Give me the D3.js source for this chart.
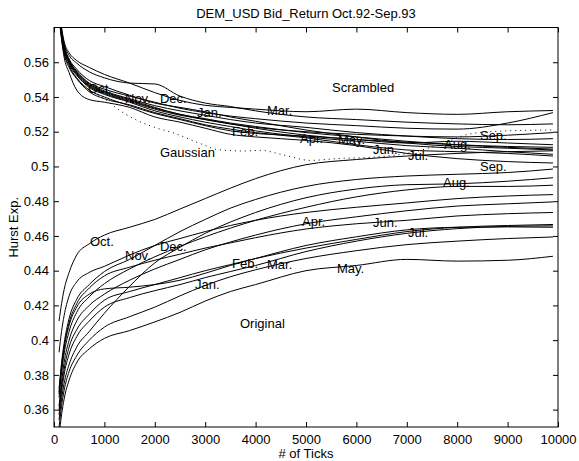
<!DOCTYPE html>
<html>
<head>
<meta charset="utf-8">
<script src="https://cdn.jsdelivr.net/npm/d3@7"></script>
<style>
  body { margin: 0; background: #fff; }
  text { font-family: "Liberation Sans", Arial, Helvetica, sans-serif; fill: #000; }
</style>
</head>
<body>
<svg id="chart" width="579" height="461"></svg>
<script>
// Number of ticks at which each Hurst exponent estimate was taken
const tickCounts = [100, 150, 200, 300, 450, 700, 1000, 1500, 2000, 2500, 3000, 3500, 4000, 5000, 6000, 7000, 8000, 9000, 9900];

const months = ["Oct.", "Nov.", "Dec.", "Jan.", "Feb.", "Mar.", "Apr.", "May.", "Jun.", "Jul.", "Aug.", "Sep."];

// Hurst exponent of the original return series, one row per month (Oct.92 .. Sep.93)
const originalHurst = [
  [0.411, 0.421, 0.429, 0.439, 0.449, 0.4555, 0.4605, 0.465, 0.4695, 0.4755, 0.4815, 0.4875, 0.493, 0.501, 0.504, 0.506, 0.5075, 0.5085, 0.509],
  [0.393, 0.405, 0.414, 0.4255, 0.4335, 0.439, 0.4425, 0.449, 0.4545, 0.4585, 0.4625, 0.466, 0.469, 0.4735, 0.4765, 0.479, 0.4815, 0.483, 0.4838],
  [0.354, 0.366, 0.375, 0.386, 0.396, 0.405, 0.4155, 0.431, 0.4445, 0.4535, 0.4615, 0.468, 0.4735, 0.482, 0.487, 0.4895, 0.490, 0.4915, 0.4935],
  [0.350, 0.362, 0.371, 0.382, 0.391, 0.400, 0.4075, 0.4135, 0.419, 0.4255, 0.4315, 0.4365, 0.4405, 0.447, 0.4515, 0.455, 0.457, 0.4585, 0.4594],
  [0.360, 0.373, 0.383, 0.396, 0.406, 0.415, 0.423, 0.428, 0.432, 0.436, 0.440, 0.4435, 0.447, 0.453, 0.458, 0.4625, 0.465, 0.466, 0.4666],
  [0.357, 0.370, 0.380, 0.392, 0.402, 0.411, 0.419, 0.4245, 0.4285, 0.432, 0.436, 0.4395, 0.443, 0.451, 0.457, 0.4615, 0.4642, 0.4655, 0.4658],
  [0.362, 0.376, 0.387, 0.400, 0.411, 0.420, 0.4265, 0.4345, 0.441, 0.4465, 0.452, 0.4565, 0.4605, 0.467, 0.471, 0.4745, 0.4772, 0.4785, 0.4796],
  [0.345, 0.357, 0.366, 0.377, 0.387, 0.395, 0.401, 0.4055, 0.4105, 0.416, 0.4225, 0.428, 0.432, 0.440, 0.443, 0.4465, 0.4455, 0.446, 0.4483],
  [0.370, 0.385, 0.396, 0.410, 0.421, 0.430, 0.437, 0.442, 0.446, 0.4495, 0.453, 0.456, 0.459, 0.464, 0.467, 0.469, 0.4715, 0.4728, 0.4735],
  [0.369, 0.384, 0.395, 0.4085, 0.419, 0.4265, 0.4295, 0.4305, 0.432, 0.4345, 0.4385, 0.443, 0.447, 0.4545, 0.4595, 0.4635, 0.465, 0.4652, 0.465],
  [0.367, 0.381, 0.392, 0.405, 0.416, 0.425, 0.4325, 0.441, 0.448, 0.454, 0.4595, 0.4645, 0.469, 0.4765, 0.4825, 0.4865, 0.4885, 0.4885, 0.4892],
  [0.372, 0.387, 0.398, 0.4125, 0.4235, 0.432, 0.4395, 0.4465, 0.4545, 0.4625, 0.4695, 0.476, 0.481, 0.4885, 0.4925, 0.4945, 0.4955, 0.4965, 0.4985]
];

// Hurst exponent of the scrambled (shuffled) series, same month order
const scrambledHurst = [
  [0.588, 0.576, 0.568, 0.561, 0.555, 0.548, 0.5445, 0.5405, 0.537, 0.5335, 0.531, 0.529, 0.5275, 0.525, 0.5235, 0.522, 0.5215, 0.525, 0.531],
  [0.589, 0.577, 0.569, 0.561, 0.5545, 0.5475, 0.5435, 0.539, 0.535, 0.532, 0.5295, 0.527, 0.525, 0.5225, 0.5195, 0.5175, 0.516, 0.5155, 0.516],
  [0.590, 0.579, 0.571, 0.564, 0.5595, 0.5545, 0.551, 0.548, 0.5475, 0.5405, 0.5365, 0.5345, 0.532, 0.5285, 0.527, 0.5255, 0.5245, 0.524, 0.5245],
  [0.590, 0.578, 0.570, 0.562, 0.556, 0.5495, 0.546, 0.541, 0.5365, 0.534, 0.5315, 0.5285, 0.526, 0.521, 0.517, 0.5135, 0.5115, 0.5105, 0.5095],
  [0.587, 0.575, 0.566, 0.558, 0.551, 0.544, 0.540, 0.535, 0.5305, 0.527, 0.5235, 0.5205, 0.519, 0.5175, 0.5155, 0.514, 0.5125, 0.5115, 0.511],
  [0.592, 0.580, 0.572, 0.5655, 0.561, 0.557, 0.553, 0.548, 0.5425, 0.538, 0.5352, 0.534, 0.533, 0.5315, 0.533, 0.531, 0.530, 0.5315, 0.5322],
  [0.588, 0.576, 0.567, 0.559, 0.5525, 0.5455, 0.5415, 0.537, 0.532, 0.5285, 0.5255, 0.523, 0.5205, 0.517, 0.5145, 0.512, 0.5105, 0.5085, 0.507],
  [0.589, 0.577, 0.568, 0.560, 0.553, 0.546, 0.542, 0.5375, 0.533, 0.5295, 0.527, 0.5245, 0.522, 0.518, 0.5155, 0.5135, 0.5145, 0.5135, 0.5125],
  [0.587, 0.574, 0.565, 0.557, 0.5505, 0.543, 0.539, 0.5355, 0.531, 0.5275, 0.524, 0.5215, 0.5195, 0.5165, 0.5125, 0.5095, 0.5085, 0.5075, 0.506],
  [0.586, 0.573, 0.563, 0.554, 0.544, 0.5385, 0.537, 0.534, 0.5285, 0.5255, 0.522, 0.5185, 0.517, 0.515, 0.512, 0.5075, 0.5045, 0.5028, 0.502],
  [0.590, 0.578, 0.569, 0.561, 0.554, 0.547, 0.543, 0.5385, 0.534, 0.530, 0.5275, 0.525, 0.523, 0.5195, 0.517, 0.5145, 0.5125, 0.511, 0.510],
  [0.589, 0.577, 0.568, 0.560, 0.5535, 0.5465, 0.5425, 0.538, 0.5335, 0.530, 0.527, 0.5245, 0.5225, 0.520, 0.5185, 0.5175, 0.517, 0.518, 0.5195]
];

// Gaussian reference estimate (dotted)
const gaussianTicks = [100, 150, 200, 300, 450, 700, 1000, 1300, 1650, 2000, 2400, 2900, 3250, 3800, 4100, 4500, 5100, 5600, 6400, 7000, 7600, 8300, 9000, 9900];
const gaussianHurst = [0.588, 0.575, 0.566, 0.558, 0.551, 0.5445, 0.539, 0.5323, 0.5265, 0.5225, 0.519, 0.5132, 0.5097, 0.5089, 0.5093, 0.507, 0.5035, 0.5045, 0.5055, 0.5075, 0.512, 0.519, 0.5205, 0.521];

// Month annotations, [ticks, Hurst exp.] of the text's left edge
const originalLabelAt = [[714, 0.457], [1409, 0.4489], [2103, 0.4541], [2798, 0.4322], [3532, 0.4443], [4226, 0.4437],
  [4921, 0.4685], [5615, 0.4414], [6329, 0.4679], [7024, 0.4621], [7718, 0.4909], [8452, 0.5001]];
const scrambledLabelAt = [[675, 0.5449], [1409, 0.5392], [2103, 0.5394], [2837, 0.5311], [3532, 0.5202], [4226, 0.5323],
  [4881, 0.5162], [5635, 0.5156], [6329, 0.5099], [7024, 0.5064], [7738, 0.5127], [8452, 0.5179]];
const groupLabels = [["Scrambled", 5516, 0.5455], ["Gaussian", 2103, 0.5081], ["Original", 3690, 0.4098]];

const xTicks = [0, 1000, 2000, 3000, 4000, 5000, 6000, 7000, 8000, 9000, 10000];
const yTicks = [0.36, 0.38, 0.40, 0.42, 0.44, 0.46, 0.48, 0.50, 0.52, 0.54, 0.56];

const svg = d3.select("#chart");
const W = 579, H = 461;
const m = { left: 54, right: 21, top: 27.5, bottom: 34 };
const iw = W - m.left - m.right, ih = H - m.top - m.bottom;

const x = d3.scaleLinear().domain([0, 10000]).range([0, iw]);
const y = d3.scaleLinear().domain([0.35, 0.58]).range([ih, 0]);

svg.append("rect").attr("width", W).attr("height", H).attr("fill", "#fff");

const g = svg.append("g").attr("transform", `translate(${m.left},${m.top})`);

g.append("clipPath").attr("id", "plotClip")
  .append("rect").attr("width", iw).attr("height", ih);

const line = d3.line().curve(d3.curveMonotoneX);
const plot = g.append("g").attr("clip-path", "url(#plotClip)");

function drawSeries(rows, ticks) {
  rows.forEach(vals => {
    plot.append("path")
      .attr("d", line(ticks.map((t, i) => [x(t), y(vals[i])])))
      .attr("fill", "none").attr("stroke", "#000").attr("stroke-width", 1);
  });
}
drawSeries(scrambledHurst, tickCounts);
drawSeries(originalHurst, tickCounts);

plot.append("path")
  .attr("d", line(gaussianTicks.map((t, i) => [x(t), y(gaussianHurst[i])])))
  .attr("fill", "none").attr("stroke", "#000").attr("stroke-width", 1)
  .attr("stroke-dasharray", "1,4");

// Axes: MATLAB-style box with inward ticks on all four sides
const fmtY = v => String(+v.toFixed(2));
const fmtX = v => String(v);
const axB = d3.axisBottom(x).tickValues(xTicks).tickSizeInner(-5).tickSizeOuter(0).tickPadding(7.5).tickFormat(fmtX);
const axT = d3.axisTop(x).tickValues(xTicks).tickSizeInner(-5).tickSizeOuter(0).tickFormat("");
const axL = d3.axisLeft(y).tickValues(yTicks).tickSizeInner(-5).tickSizeOuter(0).tickPadding(5).tickFormat(fmtY);
const axR = d3.axisRight(y).tickValues(yTicks).tickSizeInner(-5).tickSizeOuter(0).tickFormat("");

function styleAxis(sel) {
  sel.select(".domain").remove();
  sel.selectAll("line").attr("stroke", "#000");
  sel.selectAll("text").attr("font-size", 13).attr("font-family", "Liberation Sans, Arial, sans-serif");
}
g.append("g").attr("transform", `translate(0,${ih})`).call(axB).call(styleAxis);
g.append("g").call(axT).call(styleAxis);
g.append("g").call(axL).call(styleAxis);
g.append("g").attr("transform", `translate(${iw},0)`).call(axR).call(styleAxis);

g.append("rect").attr("width", iw).attr("height", ih)
  .attr("fill", "none").attr("stroke", "#000").attr("stroke-width", 1);

// Annotations
const ann = g.append("g").attr("font-size", 13);
months.forEach((mo, i) => {
  ann.append("text").attr("x", x(originalLabelAt[i][0])).attr("y", y(originalLabelAt[i][1]))
    .attr("dy", "0.35em").text(mo);
  ann.append("text").attr("x", x(scrambledLabelAt[i][0])).attr("y", y(scrambledLabelAt[i][1]))
    .attr("dy", "0.35em").text(mo);
});
groupLabels.forEach(([t, tx, ty]) => {
  ann.append("text").attr("x", x(tx)).attr("y", y(ty)).attr("dy", "0.35em").text(t);
});

// Titles
svg.append("text").attr("x", m.left + iw / 2).attr("y", 17.5)
  .attr("text-anchor", "middle").attr("font-size", 13)
  .text("DEM_USD Bid_Return Oct.92-Sep.93");
svg.append("text").attr("x", m.left + iw / 2).attr("y", 458)
  .attr("text-anchor", "middle").attr("font-size", 13)
  .text("# of Ticks");
svg.append("text")
  .attr("transform", `translate(18,${m.top + ih / 2}) rotate(-90)`)
  .attr("text-anchor", "middle").attr("font-size", 13)
  .text("Hurst Exp.");
</script>
</body>
</html>
